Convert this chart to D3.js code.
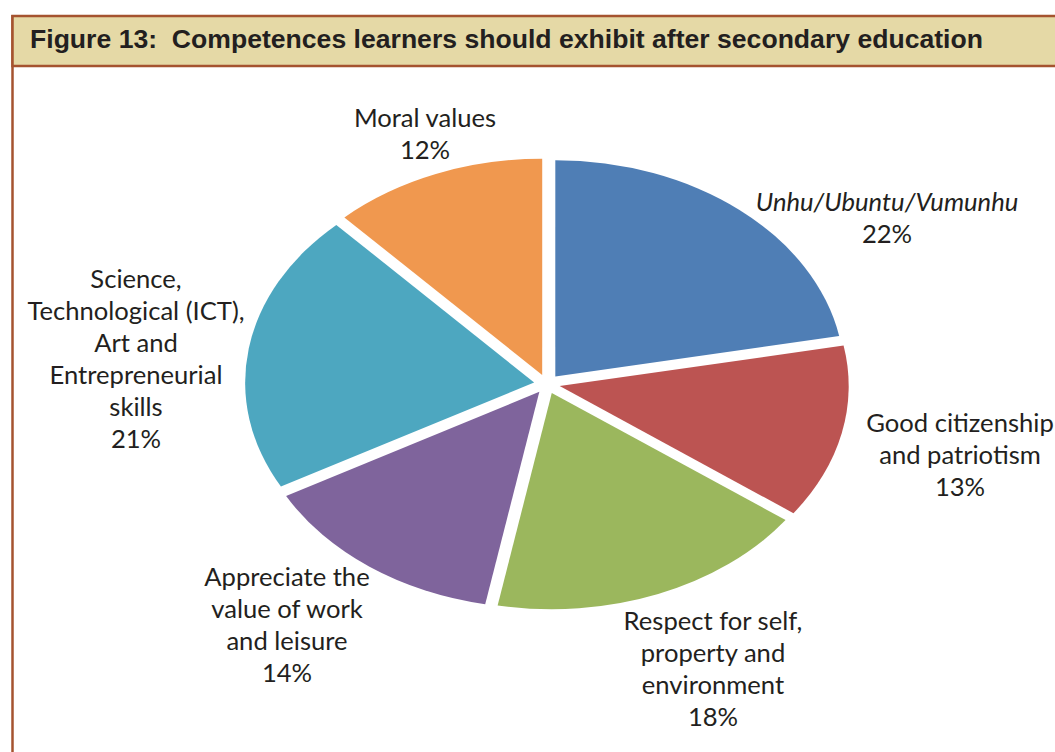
<!DOCTYPE html>
<html>
<head>
<meta charset="utf-8">
<script src="https://cdn.jsdelivr.net/npm/d3@7"></script>
<style>
  html, body { margin: 0; padding: 0; background: #ffffff; }
  svg { display: block; }
</style>
</head>
<body>
<svg id="chart" width="1055" height="752"></svg>
<script>
// Share of respondents naming each competence
const categories = [
  "Unhu/Ubuntu/Vumunhu",
  "Good citizenship and patriotism",
  "Respect for self, property and environment",
  "Appreciate the value of work and leisure",
  "Science, Technological (ICT), Art and Entrepreneurial skills",
  "Moral values"
];
const values = [22, 13, 18, 14, 21, 12];
const sliceColors = ["#4f7eb5", "#bc5452", "#9bb75d", "#7f649c", "#4da7c0", "#f0984f"];

// Line breaks used for each category label
const labelLines = [
  ["Unhu/Ubuntu/Vumunhu"],
  ["Good citizenship", "and patriotism"],
  ["Respect for self,", "property and", "environment"],
  ["Appreciate the", "value of work", "and leisure"],
  ["Science,", "Technological (ICT),", "Art and", "Entrepreneurial", "skills"],
  ["Moral values"]
];
const labelItalic = [true, false, false, false, false, false];
// Label block placement: centre x and first baseline y
const labelX = [887, 960, 713, 287, 136, 425];
const labelY = [211, 432, 630, 586, 288, 127];

const titleText = "Figure 13:  Competences learners should exhibit after secondary education";

const W = 1055, H = 752;
const svg = d3.select("#chart");

// Frame: left rule and title band
const frameColor = "#a5532f";
svg.append("line")
  .attr("x1", 12.5).attr("x2", 12.5)
  .attr("y1", 15).attr("y2", H)
  .attr("stroke", frameColor).attr("stroke-width", 2.5);
svg.append("rect")
  .attr("x", 12.5).attr("y", 16)
  .attr("width", W).attr("height", 50)
  .attr("fill", "#e5d9a6")
  .attr("stroke", frameColor).attr("stroke-width", 2.5);
svg.append("text")
  .attr("x", 30).attr("y", 48)
  .attr("font-family", "'Liberation Sans', Arial, sans-serif")
  .attr("font-weight", "bold")
  .attr("font-size", 26.5)
  .attr("fill", "#231f20")
  .attr("textLength", 953)
  .attr("lengthAdjust", "spacingAndGlyphs")
  .style("white-space", "pre")
  .text(titleText);

// Tilted, exploded pie: a circle pie squashed vertically
const cx = 547, cy = 384, radius = 289, tilt = 0.748, explode = 13;

const pie = d3.pie().sort(null).value(d => d)
  .startAngle(0).endAngle(2 * Math.PI);
const arcs = pie(values);
const arc = d3.arc().innerRadius(0).outerRadius(radius);

const pieG = svg.append("g")
  .attr("transform", `translate(${cx},${cy}) scale(1,${tilt})`);

pieG.selectAll("path")
  .data(arcs)
  .join("path")
  .attr("transform", d => {
    const mid = (d.startAngle + d.endAngle) / 2;
    return `translate(${Math.sin(mid) * explode},${-Math.cos(mid) * explode})`;
  })
  .attr("d", arc)
  .attr("fill", (d, i) => sliceColors[i]);

// Category labels with percentages
const lineH = 32;
const labelG = svg.append("g")
  .attr("font-family", "Lato, 'Open Sans', sans-serif")
  .attr("font-size", 25.6)
  .attr("fill", "#231f20")
  .attr("text-anchor", "middle");

arcs.forEach((d, i) => {
  const t = labelG.append("text")
    .attr("x", labelX[i]).attr("y", labelY[i]);
  const lines = labelLines[i].concat([d3.format(".0f")(d.data) + "%"]);
  lines.forEach((ln, j) => {
    t.append("tspan")
      .attr("x", labelX[i])
      .attr("y", labelY[i] + j * lineH)
      .attr("font-style", labelItalic[i] && j < labelLines[i].length ? "italic" : "normal")
      .text(ln);
  });
});
</script>
</body>
</html>
